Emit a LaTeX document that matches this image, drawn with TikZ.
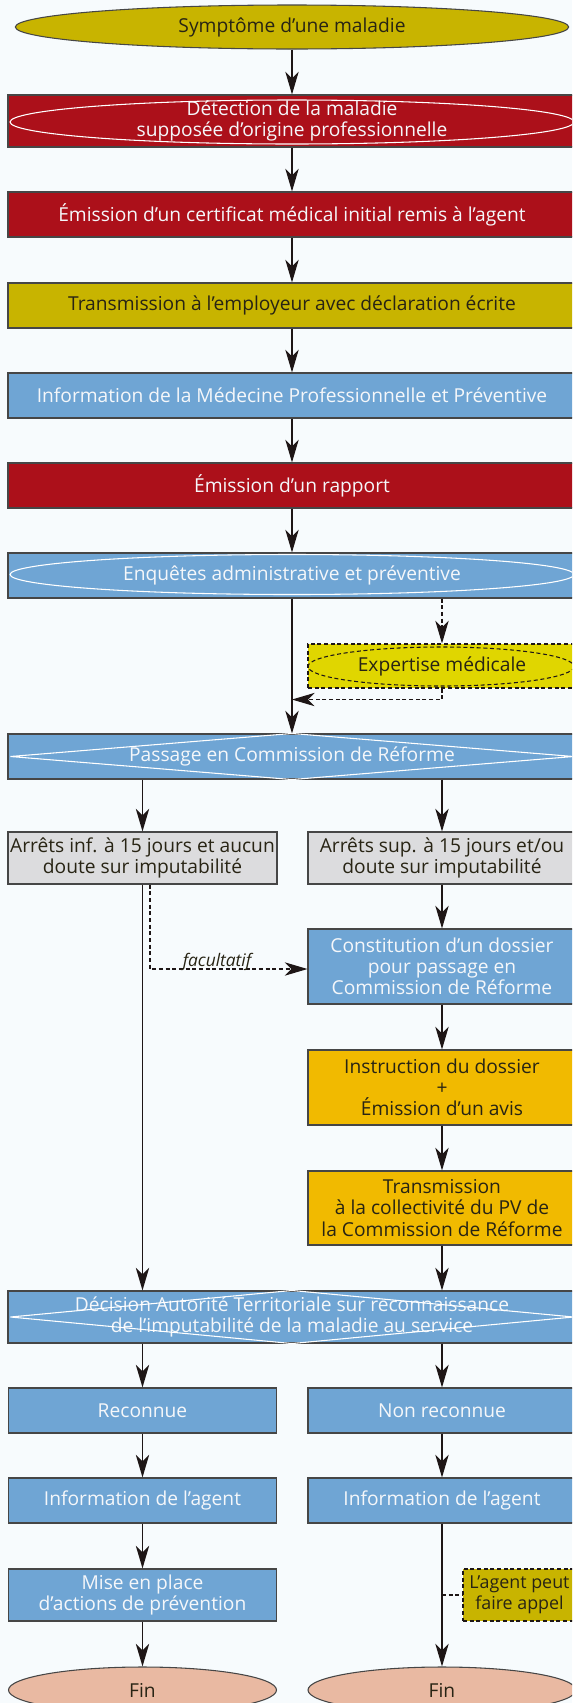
\documentclass[tikz,border=0pt]{standalone}
\usepackage{fontspec}
\setmainfont{Open Sans}
\usetikzlibrary{arrows.meta,shapes.geometric,calc}
\definecolor{bgc}{RGB}{247,251,253}
\definecolor{olivec}{RGB}{200,180,0}
\definecolor{redc}{RGB}{172,16,26}
\definecolor{bluec}{RGB}{111,165,212}
\definecolor{yelc}{RGB}{224,214,0}
\definecolor{grayc}{RGB}{220,220,222}
\definecolor{orangec}{RGB}{241,186,0}
\definecolor{finc}{RGB}{233,185,162}
\definecolor{linec}{RGB}{30,22,22}
\definecolor{borderc}{RGB}{70,70,70}
\definecolor{darktext}{RGB}{40,36,20}
\definecolor{lighttext}{RGB}{245,247,250}
\begin{document}
\begin{tikzpicture}[x=0.75pt,y=-0.75pt,
  txt/.style={font=\fontsize{14.4}{15.9}\selectfont},
  box/.style={rectangle, draw=borderc, line width=0.8pt, inner sep=0pt, align=center,
     txt, minimum height=33.75pt},
  wide/.style={box, minimum width=426pt},
  col/.style={box, minimum width=201pt},
  redbox/.style={fill=redc, text=lighttext},
  bluebox/.style={fill=bluec, text=lighttext},
  olivebox/.style={fill=olivec, text=darktext},
  graybox/.style={fill=grayc, text=darktext},
  orangebox/.style={fill=orangec, text=darktext},
  oval/.style={ellipse, draw=borderc, line width=0.8pt, inner sep=0pt, txt, text=darktext},
  dbord/.style={draw=linec, dash pattern=on 3pt off 2pt},
  arr/.style={draw=linec, line width=1.1pt, -{Stealth[length=17pt,width=10pt,inset=5pt]}},
  darr/.style={draw=linec, line width=0.8pt, dash pattern=on 3pt off 2pt, -{Stealth[length=17pt,width=10pt,inset=5pt]}},
  dashln/.style={draw=linec, line width=0.8pt, dash pattern=on 3pt off 2pt},
  innerw/.style={draw=white, line width=0.8pt},
]
\useasboundingbox (0,0) rectangle (572,1703);
\clip (0,0) rectangle (572,1703);
\fill[bgc] (0,0) rectangle (572,1703);

% main column
\node[oval, fill=olivec, minimum width=415pt, minimum height=33pt] (sym) at (292,27) {Symptôme d’une maladie};
\node[wide, redbox, minimum height=39pt] (det) at (292,121) {Détection de la maladie\\supposée d’origine professionnelle};
\draw[innerw] ($(det.center)+(0,1)$) ellipse [x radius=282, y radius=22];
\node[wide, redbox] (cert) at (292,214.5) {Émission d’un certificat médical initial remis à l’agent};
\node[wide, olivebox] (trans) at (292,305.5) {Transmission à l’employeur avec déclaration écrite};
\node[wide, bluebox] (info) at (292,395.5) {Information de la Médecine Professionnelle et Préventive};
\node[wide, redbox] (rapp) at (292,485.5) {Émission d’un rapport};
\node[wide, bluebox] (enq) at (292,575.5) {Enquêtes administrative et préventive};
\draw[innerw] ($(enq.center)+(0,-1)$) ellipse [x radius=282, y radius=20];
\node[col, fill=yelc, text=darktext, dbord, minimum height=33pt] (exp) at (442,666) {Expertise médicale};
\draw[dashln] ($(exp.center)+(-1,0.5)$) ellipse [x radius=133, y radius=19.5];
\node[wide, bluebox] (pass) at (292,756.5) {Passage en Commission de Réforme};
\draw[innerw] ($(pass.west)+(3,0)$) -- (pass.north) -- ($(pass.east)+(-3,0)$) -- (pass.south) -- cycle;

% two columns
\node[col, graybox, minimum width=201.75pt, minimum height=39pt] (gL) at (142.5,858) {Arrêts inf. à 15 jours et aucun\\doute sur imputabilité};
\node[col, graybox, minimum height=39pt] (gR) at (442,858) {Arrêts sup. à 15 jours et/ou\\doute sur imputabilité};
\node[col, bluebox, minimum height=56.25pt] (cons) at (442,966.5) {Constitution d’un dossier\\pour passage en\\Commission de Réforme};
\node[col, orangebox, minimum height=56.25pt] (instr) at (442,1087.5) {Instruction du dossier\\+\\Émission d’un avis};
\node[col, orangebox, minimum height=55.5pt] (tpv) at (442,1208) {Transmission\\à la collectivité du PV de\\la Commission de Réforme};
\node[wide, bluebox, minimum height=39pt] (dec) at (292,1317) {Décision Autorité Territoriale sur reconnaissance\\de l’imputabilité de la maladie au service};
\draw[innerw] ($(dec.west)+(3,0)$) -- (dec.north) -- ($(dec.east)+(-3,0)$) -- (dec.south) -- cycle;
\node[col, bluebox] (recL) at (142.5,1410.5) {Reconnue};
\node[col, bluebox] (recR) at (442,1410.5) {Non reconnue};
\node[col, bluebox] (infL) at (142.5,1500.5) {Information de l’agent};
\node[col, bluebox] (infR) at (442,1500.5) {Information de l’agent};
\node[col, bluebox, minimum height=39pt] (mise) at (142.5,1595) {Mise en place\\d’actions de prévention};
\node[box, olivebox, dbord, minimum width=84.75pt, minimum height=39pt, font=\fontsize{13.4}{15.4}\selectfont] (appel) at (519.5,1595) {L’agent peut\\faire appel};
\node[oval, fill=finc, minimum width=201pt, minimum height=34.5pt] (finL) at (142.5,1690) {Fin};
\node[oval, fill=finc, minimum width=201pt, minimum height=34.5pt] (finR) at (442,1690) {Fin};

% connectors
\draw[arr] (sym) -- (det);
\draw[arr] (det) -- (cert);
\draw[arr] (cert) -- (trans);
\draw[arr] (trans) -- (info);
\draw[arr] (info) -- (rapp);
\draw[arr] (rapp) -- (enq);
\draw[arr] (enq) -- (pass);
\draw[darr] (exp.north |- enq.south) -- (exp.north);
\coordinate (ret) at ($(exp.south)+(0,11)$);
\draw[darr] (exp.south) -- (ret) -- (ret -| enq.south);
\draw[arr] (pass.south -| gL.north) -- (gL.north);
\draw[arr] (pass.south -| gR.north) -- (gR.north);
\draw[arr] (gL.south) -- (gL.south |- dec.north);
\draw[arr] (gR) -- (cons);
\draw[arr] (cons) -- (instr);
\draw[arr] (instr) -- (tpv);
\draw[arr] (tpv.south) -- (tpv.south |- dec.north);
\draw[arr] (dec.south -| recL.north) -- (recL.north);
\draw[arr] (dec.south -| recR.north) -- (recR.north);
\draw[arr] (recL) -- (infL);
\draw[arr] (recR) -- (infR);
\draw[arr] (infL) -- (mise);
\draw[arr] (mise) -- (finL);
\draw[arr] (infR) -- (finR);
\draw[dashln] (infR.south |- appel.west) -- (appel.west);
\coordinate (fa) at ($(gL.south)+(7.5,0)$);
\coordinate (fb) at ($(fa |- cons.west)+(0,2.5)$);
\draw[darr] (fa) -- (fb) -- (fb -| cons.west);
\node[font=\itshape\fontsize{13}{14}\selectfont, text=darktext, anchor=base, inner sep=0pt] (fac) at (217,966) {facultatif};
\end{tikzpicture}
\end{document}
